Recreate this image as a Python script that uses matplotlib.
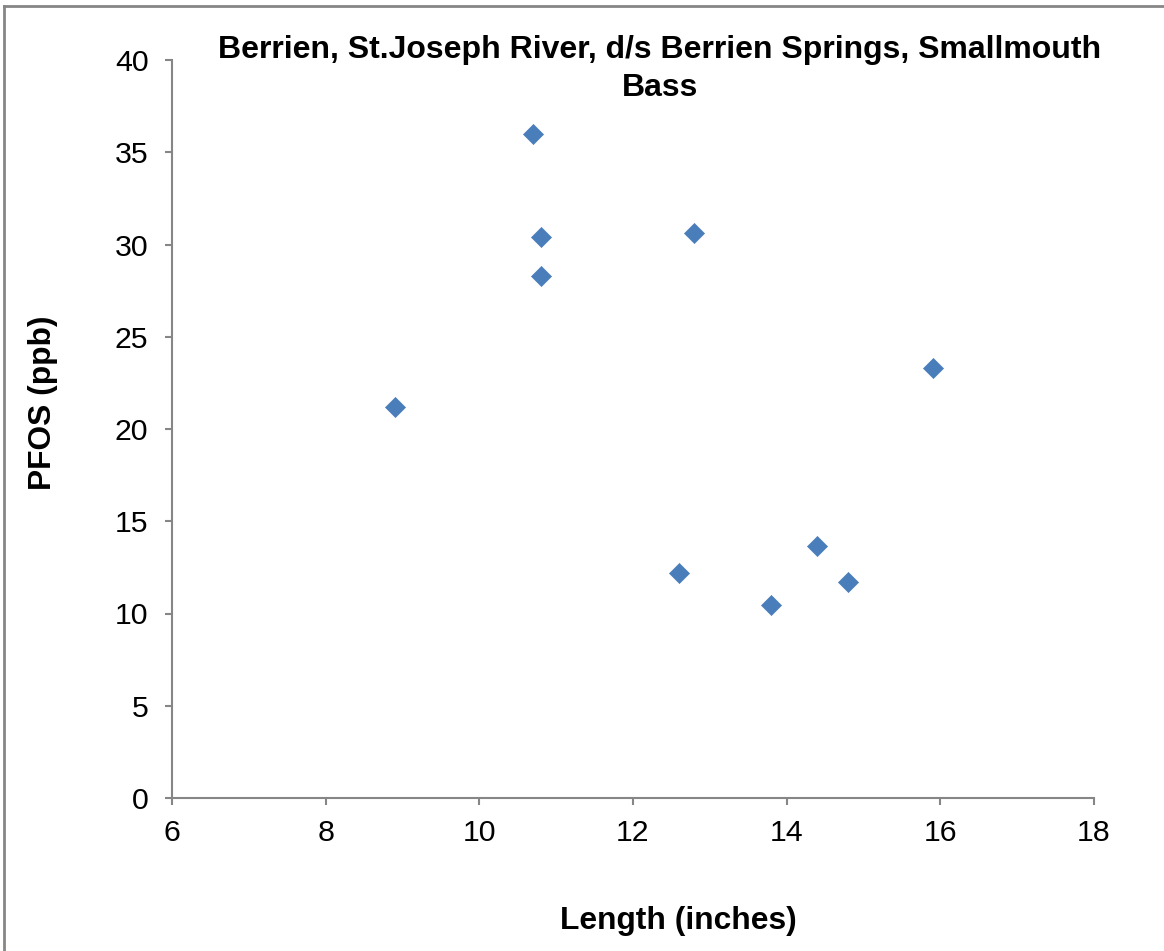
import matplotlib
matplotlib.use("Agg")
import matplotlib.pyplot as plt
from matplotlib.lines import Line2D

# fish length (inches) vs PFOS (ppb)
length_in = [8.9, 10.7, 10.8, 10.8, 12.8, 15.9, 12.6, 13.8, 14.4, 14.8]
pfos_ppb = [21.2, 36.0, 30.4, 28.3, 30.6, 23.3, 12.2, 10.45, 13.65, 11.7]

x_ticks = [6, 8, 10, 12, 14, 16, 18]
y_ticks = [0, 5, 10, 15, 20, 25, 30, 35, 40]

title = "Berrien, St.Joseph River, d/s Berrien Springs, Smallmouth\nBass"

plt.rcParams["font.family"] = ["Liberation Sans", "DejaVu Sans"]

fig = plt.figure(figsize=(11.64, 9.51), dpi=100)
ax = fig.add_axes([172 / 1164, 1 - 798 / 951, 922 / 1164, 738 / 951])

ax.scatter(length_in, pfos_ppb, marker="D", s=10.2 ** 2, color="#4a7ebb",
           edgecolors="#4a7ebb", linewidths=0.5, zorder=3)

ax.set_xlim(6, 18)
ax.set_ylim(0, 40)
ax.set_xticks(x_ticks)
ax.set_yticks(y_ticks)

axis_grey = "#868686"
for side in ("top", "right"):
    ax.spines[side].set_visible(False)
for side in ("left", "bottom"):
    ax.spines[side].set_color(axis_grey)
    ax.spines[side].set_linewidth(1.5)
ax.tick_params(direction="out", length=5, width=1.5, color=axis_grey,
               labelsize=21.8, labelcolor="black")
ax.tick_params(axis="x", pad=10)
ax.tick_params(axis="y", pad=12)

fig.text(660 / 1164, 1 - 69 / 951, title, ha="center", va="center",
         fontsize=23, fontweight="bold", linespacing=1.33)
fig.text(678 / 1164, 1 - 921 / 951, "Length (inches)", ha="center", va="center",
         fontsize=22.9, fontweight="bold")
fig.text(43 / 1164, 1 - 403 / 951, "PFOS (ppb)", ha="center", va="center",
         rotation=90, fontsize=22.9, fontweight="bold")

# chart-area frame (left and top edges visible in the crop)
fig.add_artist(Line2D([3.5 / 1164, 3.5 / 1164], [0, 1 - 6 / 951],
                      transform=fig.transFigure, color=axis_grey, lw=2))
fig.add_artist(Line2D([3.5 / 1164, 1], [1 - 6 / 951, 1 - 6 / 951],
                      transform=fig.transFigure, color=axis_grey, lw=2))

fig.savefig("out.png", dpi=100)
